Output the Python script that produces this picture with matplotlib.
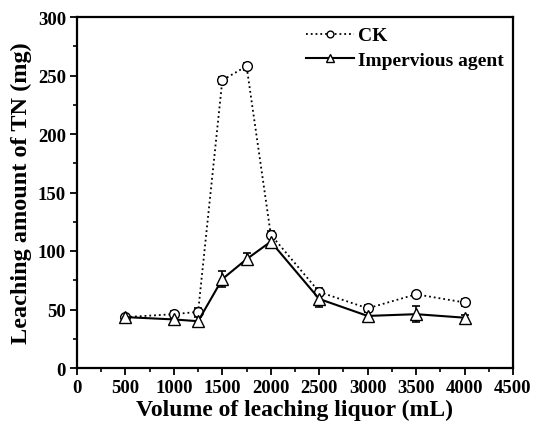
import numpy as np
import matplotlib.pyplot as plt
from matplotlib.ticker import MultipleLocator

# ── Datos ────────────────────────────────────────────────────────────────────
volume = [500, 1000, 1250, 1500, 1750, 2000, 2500, 3000, 3500, 4000]
ck = [43.5, 46, 48, 246, 258, 114, 65, 51, 63, 56]
ck_err = [2, 3, 3, 3, 3, 3, 3, 3, 2, 3]
agent = [43.5, 41.5, 40, 76, 93, 108, 59, 44.5, 46, 43]
agent_err = [2, 3, 4, 7, 5, 4, 7, 3, 7, 2]

plt.rcParams["font.family"] = ["Liberation Serif", "DejaVu Serif"]
plt.rcParams["font.weight"] = "bold"

fig = plt.figure(figsize=(5.34, 4.35), dpi=100)
ax = fig.add_axes([77 / 534, 1 - 369 / 435, 436 / 534, 351 / 435])

ax.errorbar(volume, ck, yerr=ck_err, fmt="o", linestyle=":", color="black",
            mfc="white", mec="black", markersize=7, linewidth=1.3,
            capsize=3, elinewidth=1.2, capthick=1.2, label="CK")
ax.errorbar(volume, agent, yerr=agent_err, fmt="^", linestyle="-", color="black",
            mfc="white", mec="black", markersize=8, linewidth=1.5,
            capsize=3, elinewidth=1.2, capthick=1.2, label="Impervious agent")

ax.set_xlim(0, 4500)
ax.set_ylim(0, 300)
ax.xaxis.set_major_locator(MultipleLocator(500))
ax.xaxis.set_minor_locator(MultipleLocator(250))
ax.yaxis.set_major_locator(MultipleLocator(50))
ax.yaxis.set_minor_locator(MultipleLocator(25))
ax.tick_params(which="major", length=5, width=1.3, labelsize=13.5, pad=3)
ax.tick_params(which="minor", length=3, width=1.2)
for s in ax.spines.values():
    s.set_linewidth(1.6)

ax.set_xlabel("Volume of leaching liquor (mL)", fontsize=17, fontweight="bold", labelpad=2)
ax.set_ylabel("Leaching amount of TN (mg)", fontsize=17.5, fontweight="bold", labelpad=4)

handles, labels = ax.get_legend_handles_labels()
handles = [h[0] for h in handles]
ax.legend(handles, labels, loc="upper right", frameon=False, markerscale=0.7,
          handlelength=2.45, borderaxespad=0.1, labelspacing=0.35,
          handletextpad=0.2, prop={"weight": "bold", "size": 14})

fig.savefig("out.png", dpi=100)
